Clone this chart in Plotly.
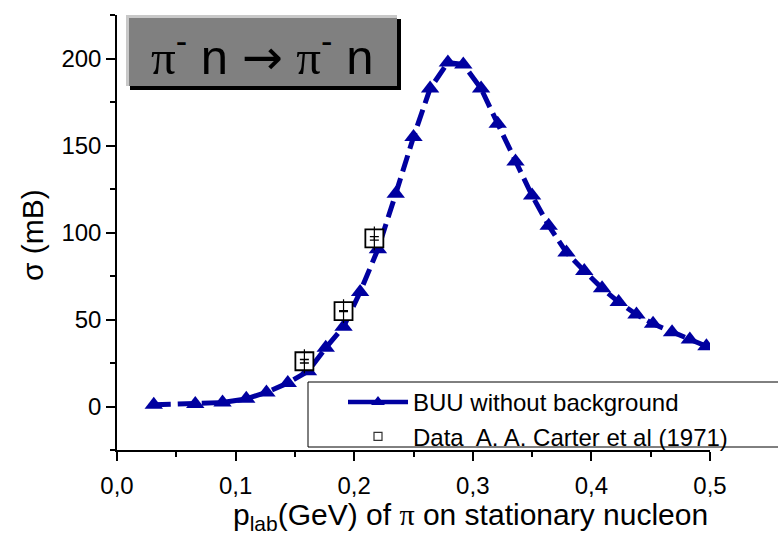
import plotly.graph_objects as go

# ---- data ----
buu_p = [0.031, 0.066, 0.089, 0.109, 0.126, 0.144, 0.161, 0.176, 0.191, 0.205,
         0.220, 0.235, 0.250, 0.264, 0.279, 0.292, 0.307, 0.321, 0.336, 0.350,
         0.364, 0.379, 0.394, 0.409, 0.423, 0.438, 0.452, 0.468, 0.483, 0.497]
buu_sigma = [1.0, 1.4, 2.3, 4.4, 8.1, 13.5, 20.2, 33.7, 45.8, 65.8,
             90.4, 122.2, 154.9, 182.7, 197.7, 196.6, 182.7, 162.5, 140.8, 121.2,
             103.9, 88.5, 77.9, 67.9, 60.0, 52.9, 47.5, 42.7, 38.5, 34.6]

data_p = [0.158, 0.191, 0.217]
data_sigma = [26.0, 54.8, 96.6]
data_err = [1.0, 0.3, 1.0]

x_tickvals = [0.0, 0.1, 0.2, 0.3, 0.4, 0.5]
x_ticktext = ["0,0", "0,1", "0,2", "0,3", "0,4", "0,5"]
y_tickvals = [0, 50, 100, 150, 200]
y_ticktext = ["0", "50", "100", "150", "200"]

NAVY = "#0000A0"
SANS = "Liberation Sans, Arial"
SERIF = "Liberation Serif, Times New Roman"
W, H = 778, 535
ML, MR, MT, MB = 117, 68, 15, 85
PW, PH = W - ML - MR, H - MT - MB


def px(x):
    return (x - ML) / PW


def py(y):
    return (H - MB - y) / PH


fig = go.Figure()

# BUU curve
fig.add_trace(go.Scatter(
    x=buu_p, y=buu_sigma, mode="lines+markers", showlegend=False,
    line=dict(color=NAVY, width=5, dash="17px,7px"),
    marker=dict(symbol="triangle-up", size=16, color=NAVY),
))
# Data squares (white fill)
fig.add_trace(go.Scatter(
    x=data_p, y=data_sigma, mode="markers", showlegend=False,
    marker=dict(symbol="square", size=18, color="white",
                line=dict(color="black", width=1.8)),
))
# Error-bar crosses on top of squares
fig.add_trace(go.Scatter(
    x=data_p, y=data_sigma, mode="markers", showlegend=False,
    marker=dict(symbol="line-ns-open", size=17, color="black",
                line=dict(color="black", width=1.2)),
    error_y=dict(type="data", array=data_err, visible=True,
                 color="black", thickness=1.3, width=4.5),
))

# legend proxies
fig.add_trace(go.Scatter(
    x=[None], y=[None], mode="lines+markers", name="BUU without background",
    line=dict(color=NAVY, width=4.5),
    marker=dict(symbol="triangle-up", size=12, color=NAVY),
))
fig.add_trace(go.Scatter(
    x=[None], y=[None], mode="markers", name="Data  A. A. Carter et al (1971)",
    marker=dict(symbol="square-open", size=8, color="#333333",
                line=dict(color="#333333", width=1.2)),
))

axis_common = dict(
    showgrid=False, zeroline=False, showline=True, linecolor="black",
    linewidth=1.5, ticks="outside", ticklen=9, tickwidth=1.5,
    tickcolor="black", tickfont=dict(family=SANS, size=24, color="black"),
)

fig.update_layout(
    width=W, height=H,
    margin=dict(l=ML, r=MR, t=MT, b=MB),
    paper_bgcolor="white", plot_bgcolor="white",
    xaxis=dict(range=[0, 0.5], tickvals=x_tickvals, ticktext=x_ticktext,
               ticklabelstandoff=4,
               minor=dict(dtick=0.05, tick0=0, ticks="outside", ticklen=5,
                          tickwidth=1.5, tickcolor="black"),
               **axis_common),
    yaxis=dict(range=[-25, 225], tickvals=y_tickvals, ticktext=y_ticktext,
               minor=dict(dtick=25, tick0=0, ticks="outside", ticklen=5,
                          tickwidth=1.5, tickcolor="black"),
               **axis_common),
    legend=dict(x=px(343), y=py(380), xanchor="left", yanchor="top",
                bgcolor="rgba(0,0,0,0)", borderwidth=0,
                font=dict(family=SANS, size=24, color="black"),
                itemwidth=60, tracegroupgap=0),
    font=dict(family=SANS, color="black"),
)

shapes = []
# legend frame
shapes.append(dict(type="rect", xref="paper", yref="paper",
                   x0=px(308), x1=px(800), y0=py(447), y1=py(382),
                   line=dict(color="black", width=1), fillcolor="white",
                   layer="above"))
# title box: shadow, gray face, light edges
shapes.append(dict(type="rect", xref="paper", yref="paper",
                   x0=px(130), x1=px(401), y0=py(90), y1=py(19),
                   line=dict(width=0), fillcolor="black", layer="above"))
shapes.append(dict(type="rect", xref="paper", yref="paper",
                   x0=px(126), x1=px(397), y0=py(86), y1=py(15),
                   line=dict(width=0), fillcolor="#808080", layer="above"))
shapes.append(dict(type="rect", xref="paper", yref="paper",
                   x0=px(126), x1=px(129), y0=py(86), y1=py(15),
                   line=dict(width=0), fillcolor="#c8c8c8", layer="above"))
shapes.append(dict(type="rect", xref="paper", yref="paper",
                   x0=px(126), x1=px(397), y0=py(18), y1=py(15),
                   line=dict(width=0), fillcolor="#c8c8c8", layer="above"))
fig.update_layout(shapes=shapes)

title_text = (f'<span style="font-family:{SERIF}">π</span><sup>-</sup> n '
              f'<span style="font-family:DejaVu Sans">→</span> '
              f'<span style="font-family:{SERIF}">π</span><sup>-</sup> n')
fig.add_annotation(xref="paper", yref="paper", x=px(262), y=py(54),
                   xanchor="center", yanchor="middle", showarrow=False,
                   text=title_text,
                   font=dict(family=SANS, size=49, color="black"))

fig.add_annotation(xref="paper", yref="paper", x=px(32), y=py(235),
                   xanchor="center", yanchor="middle", showarrow=False,
                   textangle=-90, text="σ (mB)",
                   font=dict(family=SANS, size=30, color="black"))
fig.add_annotation(xref="paper", yref="paper", x=px(470), y=py(516),
                   xanchor="center", yanchor="middle", showarrow=False,
                   text=(f'p<sub>lab</sub>(GeV) of '
                         f'<span style="font-family:{SERIF}">π</span> '
                         f'on stationary nucleon'),
                   font=dict(family=SANS, size=30, color="black"))

fig.write_html("out.html")
